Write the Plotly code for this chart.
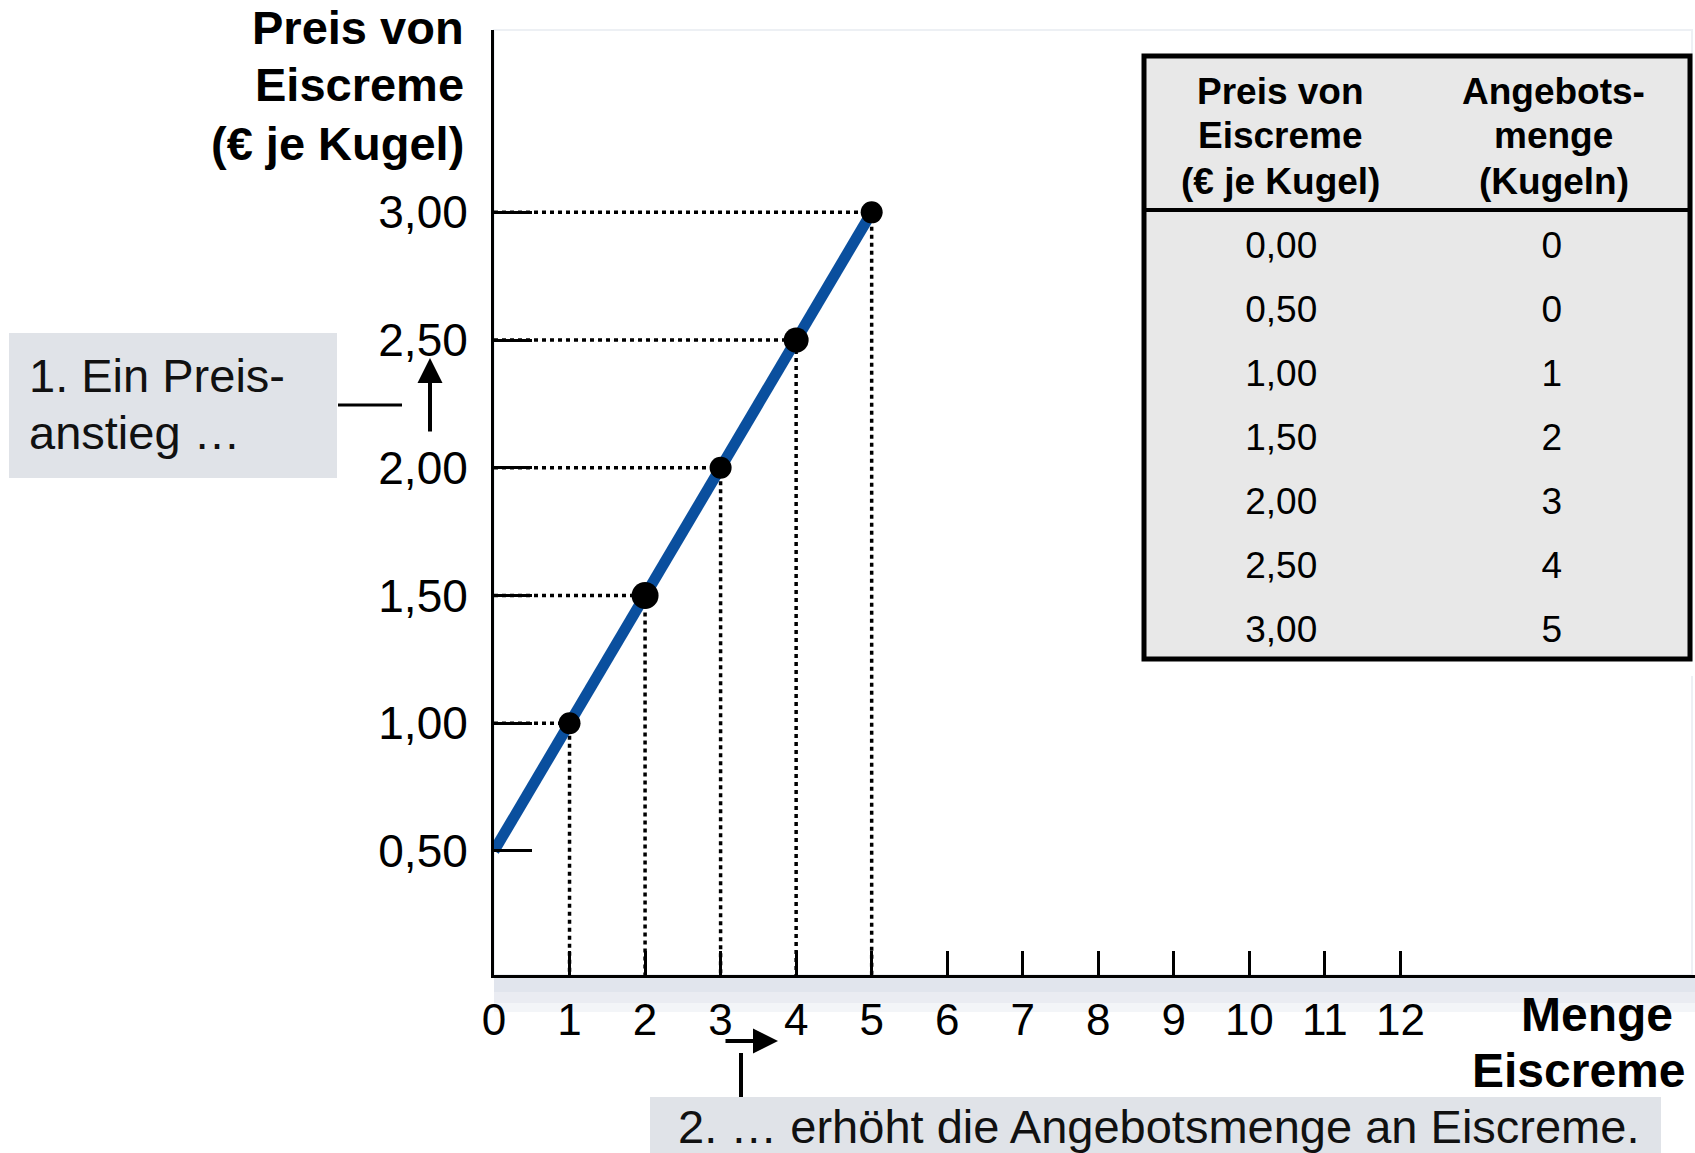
import plotly.graph_objects as go

# Angebotsplan: Preis (€ je Kugel) und Angebotsmenge (Kugeln)
preis = [0.00, 0.50, 1.00, 1.50, 2.00, 2.50, 3.00]
menge = [0, 0, 1, 2, 3, 4, 5]

y_ticks = [0.50, 1.00, 1.50, 2.00, 2.50, 3.00]
x_ticks = list(range(13))

header_preis = ["Preis von", "Eiscreme", "(€ je Kugel)"]
header_menge = ["Angebots-", "menge", "(Kugeln)"]
y_title = ["Preis von", "Eiscreme", "(€ je Kugel)"]
x_title = ["Menge", "Eiscreme"]
note_1 = ["1. Ein Preis-", "anstieg …"]
note_2 = "2. … erhöht die Angebotsmenge an Eiscreme."

FONT = "Liberation Sans, Arial, sans-serif"
BLUE = "#0a4f9e"
TABLE_BG = "#e8e8e8"
BOX_BG = "#e0e3e8"

W, H = 1695, 1153
L, R, T, B = 494, 0, 30, 178


def px(x):
    return (x - L) / (W - L - R)


def py(y):
    return (H - B - y) / (H - T - B)


fig = go.Figure()

# curve starts where quantity is still 0 at the highest such price
start = max(i for i, q in enumerate(menge) if q == 0)
kurve_x = menge[start:]
kurve_y = preis[start:]

# dotted guides to both axes
for q, p in zip(kurve_x, kurve_y):
    if q == 0:
        continue
    fig.add_trace(go.Scatter(
        x=[0, q, q], y=[p, p, 0], mode="lines",
        line=dict(color="black", width=3.5, dash="4px,4px"),
        hoverinfo="skip",
    ))

fig.add_trace(go.Scatter(
    x=kurve_x, y=kurve_y, mode="lines",
    line=dict(color=BLUE, width=11),
    hoverinfo="skip",
))

dots = [(q, p) for q, p in zip(kurve_x, kurve_y) if q > 0]
fig.add_trace(go.Scatter(
    x=[d[0] for d in dots], y=[d[1] for d in dots], mode="markers",
    marker=dict(color="black", opacity=1, size=[22, 27, 22, 25, 22],
                line=dict(width=0)),
    hoverinfo="skip",
))

# table: x extents (px) of the box, header / body split
TBL_X0, TBL_X1, TBL_Y0, TBL_Y1, TBL_HDR = 1144, 1690, 56, 659, 210

fig.add_shape(type="rect", xref="paper", yref="paper",
              x0=px(TBL_X0), x1=px(TBL_X1), y0=py(TBL_Y1), y1=py(TBL_Y0),
              fillcolor=TABLE_BG, line_width=0, layer="below")

fig.add_trace(go.Table(
    domain=dict(x=[px(TBL_X0 + 2), px(TBL_X1 - 2)], y=[py(670), py(63)]),
    columnwidth=[1, 1],
    header=dict(values=["", ""], fill_color=TABLE_BG,
                line=dict(color=TABLE_BG, width=0), height=159),
    cells=dict(
        values=[[f"{p:.2f}".replace(".", ",") for p in preis], menge],
        fill_color=TABLE_BG, line=dict(color=TABLE_BG, width=0),
        align="center", height=64,
        font=dict(size=37, family=FONT, color="black"),
    ),
))

# hide the table body overflow below the border
fig.add_shape(type="rect", xref="paper", yref="paper",
              x0=px(TBL_X0 - 4), x1=px(W), y0=py(676), y1=py(TBL_Y1 + 2),
              fillcolor="white", line_width=0)

# header lines, centred per column
col_w = (TBL_X1 - TBL_X0) / 2
for c, lines in enumerate([header_preis, header_menge]):
    cx = TBL_X0 + col_w * (c + 0.5)
    for k, s in enumerate(lines):
        fig.add_annotation(xref="paper", yref="paper", showarrow=False,
                           x=px(cx), y=py(91 + 45 * k), xanchor="center",
                           yanchor="middle", text=f"<b>{s}</b>",
                           font=dict(size=37, family=FONT, color="black"))

# faint frame and shadow under the x axis
fig.add_shape(type="rect", xref="paper", yref="paper",
              x0=px(494), x1=px(1692), y0=py(975), y1=py(30),
              line=dict(color="#edf0f4", width=2), layer="below")
for y0, y1, a in [(976, 992, 0.9), (992, 1003, 0.65), (1003, 1012, 0.35)]:
    fig.add_shape(type="rect", xref="paper", yref="paper",
                  x0=px(494), x1=px(1695), y0=py(y1), y1=py(y0),
                  fillcolor=f"rgba(222,226,235,{a})", line_width=0, layer="below")

# table border + header rule
fig.add_shape(type="rect", xref="paper", yref="paper",
              x0=px(TBL_X0), x1=px(TBL_X1), y0=py(TBL_Y1), y1=py(TBL_Y0),
              line=dict(color="black", width=5))
fig.add_shape(type="line", xref="paper", yref="paper",
              x0=px(TBL_X0), x1=px(TBL_X1), y0=py(TBL_HDR), y1=py(TBL_HDR),
              line=dict(color="black", width=4))

# callout boxes
fig.add_shape(type="rect", xref="paper", yref="paper",
              x0=px(9), x1=px(337), y0=py(478), y1=py(333),
              fillcolor=BOX_BG, line_width=0, layer="below")
fig.add_shape(type="line", xref="paper", yref="paper",
              x0=px(338), x1=px(402), y0=py(405), y1=py(405),
              line=dict(color="black", width=3))
fig.add_shape(type="rect", xref="paper", yref="paper",
              x0=px(650), x1=px(1661), y0=py(1160), y1=py(1097),
              fillcolor=BOX_BG, line_width=0, layer="below")
fig.add_shape(type="line", xref="paper", yref="paper",
              x0=px(741), x1=px(741), y0=py(1097), y1=py(1053),
              line=dict(color="black", width=4))

ann = dict(xref="paper", yref="paper", showarrow=False, yanchor="middle")
title_font = dict(size=47, family=FONT, color="black")
box_font = dict(size=47, family=FONT, color="#111111")
for s, y in zip(y_title, [27, 84, 143]):
    fig.add_annotation(**ann, x=px(466), y=py(y), xanchor="right",
                       text=f"<b>{s}</b>", font=title_font)
for s, x, y in zip(x_title, [1597, 1579], [1014, 1070]):
    fig.add_annotation(**ann, x=px(x), y=py(y), xanchor="center",
                       text=f"<b>{s}</b>", font=dict(title_font, size=48))
for s, y in zip(note_1, [376, 432]):
    fig.add_annotation(**ann, x=px(27), y=py(y), xanchor="left",
                       text=s, font=box_font)
fig.add_annotation(**ann, x=px(676), y=py(1126), xanchor="left",
                   text=note_2, font=box_font)

# arrows
arr = dict(xref="paper", yref="paper", text="", showarrow=True,
           arrowhead=2, arrowwidth=4, arrowsize=1.25, arrowcolor="black")
fig.add_annotation(**arr, x=px(430), y=py(358), ax=0, ay=75)
fig.add_annotation(**arr, x=px(778), y=py(1041), ax=-54, ay=0)

fig.update_layout(
    width=W, height=H,
    margin=dict(l=L, r=R, t=T, b=B),
    paper_bgcolor="white", plot_bgcolor="white",
    separators=",.",
    showlegend=False,
    xaxis=dict(range=[0, 15.9], tickvals=x_ticks, ticks="inside", ticklen=24,
               tickwidth=3, tickcolor="black", showline=True, linewidth=3,
               linecolor="black", showgrid=False, zeroline=False,
               tickfont=dict(size=44, family=FONT, color="black"),
               ticklabelstandoff=4, fixedrange=True),
    yaxis=dict(range=[0.014, 3.714], tickvals=y_ticks, tickformat=".2f",
               ticks="inside", ticklen=38, tickwidth=3, tickcolor="black",
               showline=True, linewidth=3, linecolor="black", showgrid=False,
               zeroline=False, tickfont=dict(size=46, family=FONT, color="black"),
               ticklabelstandoff=14, fixedrange=True),
)

fig.write_html("out.html", config={"displayModeBar": False},
               post_script="document.body.style.margin = '0';")
